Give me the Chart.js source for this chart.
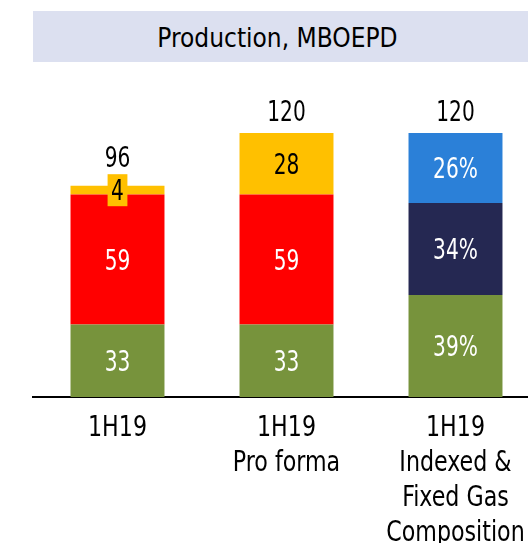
<!DOCTYPE html>
<html>
<head>
<meta charset="utf-8">
<script src="https://cdn.jsdelivr.net/npm/chart.js@4.4.1/dist/chart.umd.min.js"></script>
<style>
    html, body { margin: 0; padding: 0; overflow: hidden; background: #fff; }
    #wrap { position: relative; width: 528px; height: 543px; overflow: hidden; }
    #title {
        position: absolute; left: 33px; top: 11px; width: 495px; height: 51px;
        background: #dce0f0; color: #000; text-align: center;
        font: 26px 'DejaVu Sans Condensed', 'Liberation Sans Narrow', sans-serif;
        line-height: 52px; box-sizing: border-box; padding: 1px 6px 0 0;
    }
    #prod-chart { position: absolute; left: 0; top: 0; }
</style>
</head>
<body>
<div id="wrap">
    <canvas id="prod-chart" width="540" height="543"></canvas>
    <div id="title">Production, MBOEPD</div>
</div>
<script>
const categories = [
    ['1H19'],
    ['1H19', 'Pro forma'],
    ['1H19', 'Indexed &', 'Fixed Gas', 'Composition']
];
const bottomValues = [33, 33, 46.4];
const middleValues = [59, 59, 41.8];
const topValues = [4, 28, 31.8];
const bottomLabels = ['33', '33', '39%'];
const middleLabels = ['59', '59', '34%'];
const topLabels = ['4', '28', '26%'];
const totals = [96, 120, 120];
const yMax = 150;

const fontFamily = "'DejaVu Sans Condensed', 'Liberation Sans Narrow', sans-serif";
const green = '#77933c';
const red = '#ff0000';
const yellow = '#ffc000';
const navy = '#252852';
const blue = '#2b80d8';

// the original font is a narrow one, so text is squeezed sideways
function narrowText(ctx, txt, x, y, sx) {
    ctx.save();
    ctx.translate(x, y);
    ctx.scale(sx, 1);
    ctx.fillText(txt, 0, 0);
    ctx.restore();
}

// labels inside each segment, totals above the stacks, category names under the axis
const barText = {
    id: 'barText',
    afterDatasetsDraw(chart) {
        const ctx = chart.ctx;
        ctx.save();
        ctx.font = `28px ${fontFamily}`;
        ctx.textAlign = 'center';
        ctx.textBaseline = 'alphabetic';
        chart.data.datasets.forEach((ds, di) => {
            chart.getDatasetMeta(di).data.forEach((bar, i) => {
                const txt = ds.segLabels[i];
                const cy = (bar.y + bar.base) / 2;
                if (bar.base - bar.y < 30) {
                    // small segment: label sits on a box of the segment colour
                    const w = ctx.measureText(txt).width * 0.8 + 7;
                    ctx.fillStyle = ds.backgroundColor[i];
                    ctx.fillRect(bar.x - w / 2, cy - 16, w, 32);
                }
                ctx.fillStyle = ds.labelColor[i];
                narrowText(ctx, txt, bar.x, cy + 10, 0.8);
            });
        });
        chart.getDatasetMeta(chart.data.datasets.length - 1).data.forEach((bar, i) => {
            let y = bar.y - 12;
            if (bar.base - bar.y < 30) y = (bar.y + bar.base) / 2 - 16 - 7;
            ctx.fillStyle = '#000';
            narrowText(ctx, String(totals[i]), bar.x, y, 0.8);
        });
        const xs = chart.scales.x;
        chart.data.labels.forEach((lines, i) => {
            const x = xs.getPixelForTick(i);
            lines.forEach((line, k) => {
                narrowText(ctx, line, x, xs.top + 39 + k * 35, 0.88);
            });
        });
        ctx.restore();
    }
};

new Chart(document.getElementById('prod-chart'), {
    type: 'bar',
    data: {
        labels: categories,
        datasets: [
            { data: bottomValues, segLabels: bottomLabels, backgroundColor: [green, green, green], labelColor: ['#fff', '#fff', '#fff'] },
            { data: middleValues, segLabels: middleLabels, backgroundColor: [red, red, navy], labelColor: ['#fff', '#fff', '#fff'] },
            { data: topValues, segLabels: topLabels, backgroundColor: [yellow, yellow, blue], labelColor: ['#000', '#000', '#fff'] }
        ]
    },
    options: {
        responsive: false,
        animation: false,
        barPercentage: 0.556,
        categoryPercentage: 1,
        layout: { padding: { left: 33, top: 67, right: 0, bottom: 0 } },
        plugins: {
            legend: { display: false },
            tooltip: { enabled: false }
        },
        scales: {
            x: {
                stacked: true,
                grid: { display: true, drawOnChartArea: false, drawTicks: false },
                border: { display: true, color: '#000', width: 2 },
                ticks: { display: false },
                afterFit(scale) { scale.height = 146; }
            },
            y: {
                stacked: true,
                display: false,
                min: 0,
                max: yMax
            }
        }
    },
    plugins: [barText]
});
</script>
</body>
</html>
